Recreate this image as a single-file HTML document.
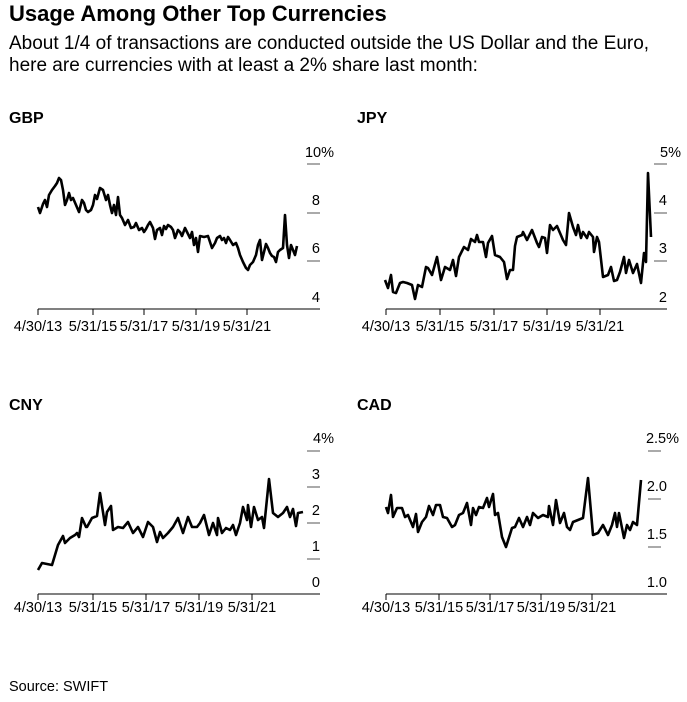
<!DOCTYPE html>
<html><head><meta charset="utf-8"><style>
body{margin:0;background:#fff;font-family:"Liberation Sans",sans-serif;color:#000;width:687px;height:702px;overflow:hidden;position:relative}
.t{position:absolute;left:9px;top:1px;font-size:22px;font-weight:bold;white-space:nowrap}
.s{position:absolute;left:9px;top:33px;font-size:19px;line-height:22px;white-space:nowrap}
.src{position:absolute;left:9px;top:679px;font-size:14.5px}
svg{position:absolute;left:0;top:0}
text{font-family:"Liberation Sans",sans-serif;font-size:14.5px}
</style></head><body>
<div class="t">Usage Among Other Top Currencies</div>
<div class="s">About 1/4 of transactions are conducted outside the US Dollar and the Euro,<br>here are currencies with at least a 2% share last month:</div>
<div class="src">Source: SWIFT</div>
<svg width="687" height="702">
<g><text x="9" y="123" style="font-size:16px;font-weight:bold">GBP</text>
<text x="357" y="123" style="font-size:16px;font-weight:bold">JPY</text>
<text x="9" y="410" style="font-size:16px;font-weight:bold">CNY</text>
<text x="357" y="410" style="font-size:16px;font-weight:bold">CAD</text></g>
<g stroke="#000" stroke-width="1" fill="none">
<path d="M38 309H320M38 309v6M93 309v6M144 309v6M196 309v6M247 309v6"/>
<path d="M307 164h13M307 213h13M307 261h13" stroke="#555"/>
<path d="M386 309H667M386 309v6M440 309v6M494 309v6M547 309v6M600 309v6"/>
<path d="M654 164h13M654 213h13M654 261h13" stroke="#555"/>
<path d="M38 594H320M38 594v6M93 594v6M146 594v6M199 594v6M252 594v6"/>
<path d="M307 451h13M307 487h13M307 523h13M307 559h13" stroke="#555"/>
<path d="M386 594H667M386 594v6M439 594v6M490 594v6M541 594v6M592 594v6"/>
<path d="M648 451h13M648 499h13M648 547h13" stroke="#555"/>
</g>
<g text-anchor="end">
<text x="334" y="157">10%</text><text x="320" y="205">8</text><text x="320" y="253">6</text><text x="320" y="302">4</text>
<text x="681" y="157">5%</text><text x="667" y="205">4</text><text x="667" y="253">3</text><text x="667" y="302">2</text>
<text x="334" y="443">4%</text><text x="320" y="479">3</text><text x="320" y="515">2</text><text x="320" y="551">1</text><text x="320" y="587">0</text>
<text x="679" y="443">2.5%</text><text x="667" y="491">2.0</text><text x="667" y="539">1.5</text><text x="667" y="587">1.0</text>
</g>
<g text-anchor="middle">
<text x="38" y="331">4/30/13</text><text x="93" y="331">5/31/15</text><text x="144" y="331">5/31/17</text><text x="196" y="331">5/31/19</text><text x="247" y="331">5/31/21</text>
<text x="386" y="331">4/30/13</text><text x="440" y="331">5/31/15</text><text x="494" y="331">5/31/17</text><text x="547" y="331">5/31/19</text><text x="600" y="331">5/31/21</text>
<text x="38" y="612">4/30/13</text><text x="93" y="612">5/31/15</text><text x="146" y="612">5/31/17</text><text x="199" y="612">5/31/19</text><text x="252" y="612">5/31/21</text>
<text x="386" y="612">4/30/13</text><text x="439" y="612">5/31/15</text><text x="490" y="612">5/31/17</text><text x="541" y="612">5/31/19</text><text x="592" y="612">5/31/21</text>
</g>
<g fill="none" stroke="#000" stroke-width="2.6" stroke-linejoin="round">
<polyline points="38,207 40,213 43,204 45,200 47,207 49,195 52,190 55,186 57,183 59,178 61,180 63,190 65,205 67,200 69,193 71,200 73,198 76,205 79,212 82,200 84,203 86,210 88,212 91,210 93,205 95,195 97,199 100,188 103,190 106,200 108,195 110,205 112,213 114,205 116,215 118,197 120,215 122,218 125,225 128,220 131,228 134,227 136,223 139,230 142,228 144,232 146,229 148,225 150,222 153,228 155,239 157,230 160,228 162,235 164,226 166,229 168,225 171,227 173,230 175,238 178,230 180,232 182,236 185,228 187,232 190,238 192,232 194,245 196,238 198,252 200,236 204,237 208,236 210,242 212,248 215,243 217,238 220,236 222,240 224,238 226,243 228,237 230,240 233,245 236,243 238,248 240,255 243,262 246,268 248,270 250,265 253,262 256,255 258,245 260,240 262,260 264,252 266,244 268,248 270,253 272,256 274,257 276,262 278,252 280,250 283,248 285,215 287,245 289,258 291,245 293,250 295,255 297,246"/>
<polyline points="385,280 388,288 391,275 393,292 396,293 400,283 403,282 407,283 412,285 415,299 418,285 422,287 426,267 428,268 432,275 437,257 441,280 445,267 450,270 453,260 456,276 459,257 464,247 468,250 471,239 475,242 477,235 479,242 483,242 486,257 488,243 492,236 495,255 500,257 504,262 507,279 510,270 513,270 515,246 517,237 522,235 523,232 527,240 532,230 537,243 539,247 542,237 545,238 547,253 550,225 553,230 557,226 563,240 566,245 569,213 573,227 576,235 578,225 581,238 583,232 587,238 589,232 593,237 594,252 597,237 599,242 603,277 608,275 611,267 614,281 617,280 620,272 624,257 626,273 629,260 633,273 637,264 641,283 644,253 646,262 648,173 651,237"/>
<polyline points="38,570 42,563 47,564 52,565 55,555 58,545 63,536 65,543 70,538 75,535 77,533 79,537 82,518 86,527 87,527 92,518 97,516 100,493 105,525 107,512 111,506 113,530 118,527 123,528 128,522 133,533 138,527 143,537 148,522 153,527 157,542 160,532 163,538 168,533 173,527 178,518 183,533 188,517 192,527 197,527 200,523 204,515 209,535 213,523 217,535 218,518 222,533 226,528 230,530 233,525 236,535 240,523 243,507 247,520 248,505 251,527 254,507 258,520 262,517 264,528 269,479 273,513 278,517 283,513 287,507 290,517 293,509 296,526 298,513 303,512"/>
<polyline points="386,507 388,513 391,495 393,517 397,508 402,508 405,517 408,515 413,527 416,514 418,532 422,522 426,517 429,506 433,515 436,505 440,505 443,517 447,518 452,527 455,525 459,515 463,513 467,503 471,525 473,508 476,515 479,507 483,508 487,498 489,507 493,494 495,515 498,513 502,537 506,547 512,528 515,527 519,518 523,527 527,517 530,525 533,513 538,518 543,515 548,517 549,506 553,525 556,500 560,523 564,513 567,527 570,530 573,522 578,520 583,518 588,478 593,535 598,533 603,525 608,535 612,525 615,513 617,527 619,513 624,538 627,525 630,530 633,522 637,525 641,480"/>
</g>
</svg>
</body></html>
